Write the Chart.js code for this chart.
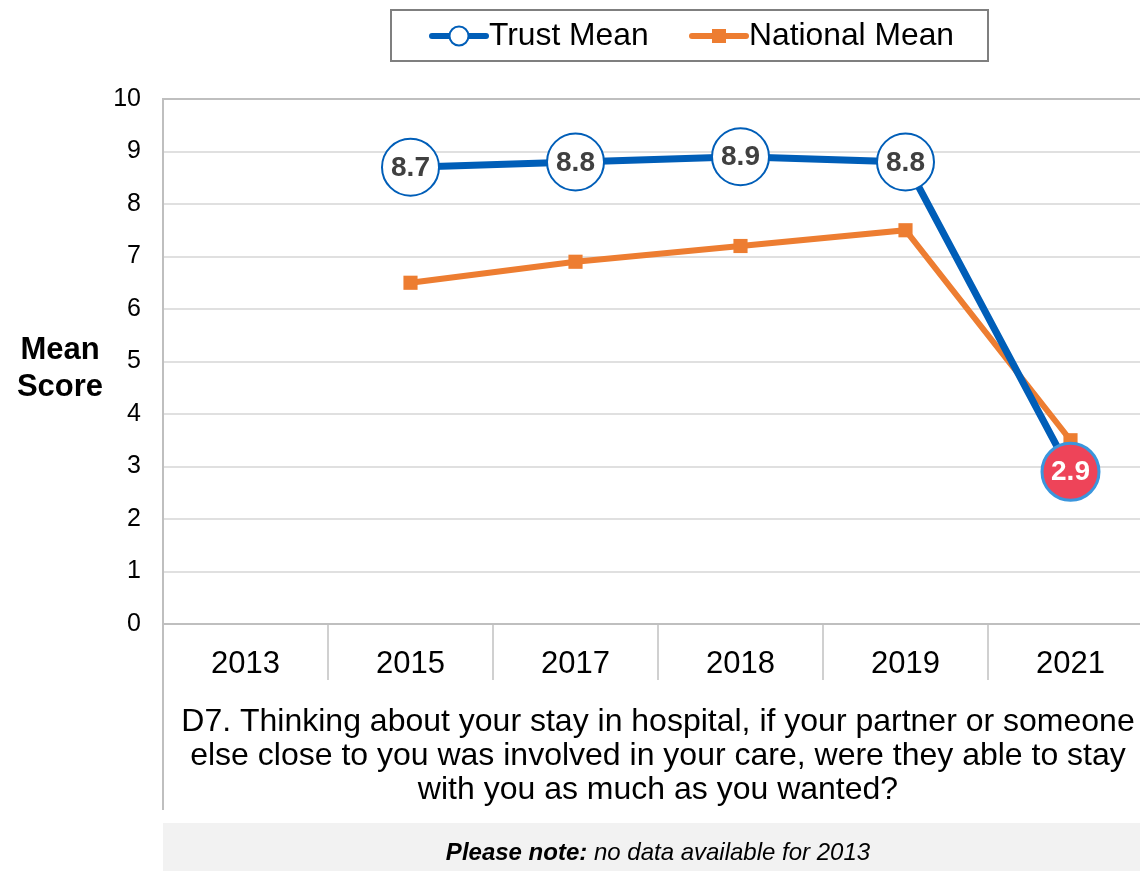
<!DOCTYPE html>
<html>
<head>
<meta charset="utf-8">
<script src="https://cdn.jsdelivr.net/npm/chart.js@4.4.1/dist/chart.umd.min.js"></script>
<style>
  html, body { margin: 0; padding: 0; overflow: hidden; background: #fff; width: 1140px; height: 871px; }
  #wrap { position: absolute; left: 0; top: 0; width: 1155px; height: 871px; }
</style>
</head>
<body>
<div id="wrap"><canvas id="c" width="1155" height="871"></canvas></div>
<script>
const years = ['2013', '2015', '2017', '2018', '2019', '2021'];
const trustMean = [null, 8.7, 8.8, 8.9, 8.8, 2.9];
const nationalMean = [null, 6.5, 6.9, 7.2, 7.5, 3.5];
const yTicks = [0, 1, 2, 3, 4, 5, 6, 7, 8, 9, 10];
const seriesNames = ['Trust Mean', 'National Mean'];
const yTitle = ['Mean', 'Score'];
const xTitle = [
  'D7. Thinking about your stay in hospital, if your partner or someone',
  'else close to you was involved in your care, were they able to stay',
  'with you as much as you wanted?'
];
const noteBold = 'Please note:';
const noteText = ' no data available for 2013';

const FONT = '"Liberation Sans", Arial, sans-serif';
const BLUE = '#005EB8';
const ORANGE = '#ED7D31';

const lastIdx = trustMean.length - 1;

const extras = {
  id: 'extras',
  beforeDraw(chart) {
    const ctx = chart.ctx;
    const a = chart.chartArea;
    ctx.save();
    ctx.fillStyle = '#F2F2F2';
    ctx.fillRect(a.left, 823, chart.width - a.left, 871 - 823);
    ctx.restore();
  },
  afterDraw(chart) {
    const ctx = chart.ctx;
    const a = chart.chartArea;
    ctx.save();
    // extended left axis line
    ctx.strokeStyle = '#BFBFBF';
    ctx.lineWidth = 2;
    ctx.beginPath();
    ctx.moveTo(a.left, a.bottom);
    ctx.lineTo(a.left, 810);
    ctx.stroke();

    // y axis title
    ctx.fillStyle = '#000';
    ctx.font = 'bold 31px ' + FONT;
    ctx.textAlign = 'center';
    ctx.textBaseline = 'middle';
    const cy = (a.top + a.bottom) / 2 + 7;
    ctx.fillText(yTitle[0], 60, cy - 18);
    ctx.fillText(yTitle[1], 60, cy + 19);

    // note text
    ctx.font = 'bold italic 24px ' + FONT;
    const w1 = ctx.measureText(noteBold).width;
    ctx.font = 'italic 24px ' + FONT;
    const w2 = ctx.measureText(noteText).width;
    const cx = (a.left + a.right) / 2;
    const x0 = cx - (w1 + w2) / 2;
    ctx.textAlign = 'left';
    ctx.fillStyle = '#000';
    ctx.font = 'bold italic 24px ' + FONT;
    ctx.fillText(noteBold, x0, 853);
    ctx.font = 'italic 24px ' + FONT;
    ctx.fillText(noteText, x0 + w1, 853);

    // legend
    ctx.strokeStyle = '#7F7F7F';
    ctx.lineWidth = 2;
    ctx.strokeRect(391, 10, 597, 51);
    const ly = 36;
    ctx.lineCap = 'round';
    ctx.strokeStyle = BLUE;
    ctx.lineWidth = 6;
    ctx.beginPath(); ctx.moveTo(432, ly); ctx.lineTo(486, ly); ctx.stroke();
    ctx.fillStyle = '#fff';
    ctx.lineWidth = 2;
    ctx.beginPath(); ctx.arc(459, ly, 9.5, 0, Math.PI * 2); ctx.fill(); ctx.stroke();
    ctx.strokeStyle = ORANGE;
    ctx.lineWidth = 6;
    ctx.beginPath(); ctx.moveTo(692, ly); ctx.lineTo(746, ly); ctx.stroke();
    ctx.fillStyle = ORANGE;
    ctx.fillRect(712, ly - 7, 14, 14);
    ctx.fillStyle = '#000';
    ctx.font = '31.8px ' + FONT;
    ctx.textBaseline = 'middle';
    ctx.fillText(seriesNames[0], 489, ly);
    ctx.fillText(seriesNames[1], 749, ly);

    // point labels for trust mean
    const meta = chart.getDatasetMeta(0);
    ctx.textAlign = 'center';
    ctx.textBaseline = 'middle';
    ctx.font = 'bold 28px ' + FONT;
    meta.data.forEach((pt, i) => {
      const v = trustMean[i];
      if (v === null || v === undefined) return;
      ctx.fillStyle = i === lastIdx ? '#FFFFFF' : '#404040';
      ctx.fillText(v.toFixed(1), pt.x, pt.y + 1);
    });
    ctx.restore();
  }
};

new Chart(document.getElementById('c'), {
  type: 'line',
  data: {
    labels: years,
    datasets: [
      {
        label: seriesNames[0],
        data: trustMean,
        borderColor: BLUE,
        borderWidth: 7,
        backgroundColor: BLUE,
        pointRadius: 28.5,
        pointHoverRadius: 28.5,
        pointBackgroundColor: trustMean.map((v, i) => i === lastIdx ? '#EE4459' : '#FFFFFF'),
        pointBorderColor: trustMean.map((v, i) => i === lastIdx ? '#3A96DD' : BLUE),
        pointBorderWidth: trustMean.map((v, i) => i === lastIdx ? 3 : 2),
        tension: 0,
        clip: false
      },
      {
        label: seriesNames[1],
        data: nationalMean,
        borderColor: ORANGE,
        borderWidth: 6,
        backgroundColor: ORANGE,
        pointStyle: 'rect',
        pointRadius: 10,
        pointHoverRadius: 10,
        pointBackgroundColor: ORANGE,
        pointBorderColor: ORANGE,
        pointBorderWidth: 0,
        tension: 0,
        clip: false
      }
    ]
  },
  options: {
    responsive: false,
    animation: false,
    devicePixelRatio: 1,
    events: [],
    layout: { autoPadding: false, padding: { top: 99, left: 0, right: 2, bottom: 59 } },
    plugins: {
      legend: { display: false },
      tooltip: { enabled: false }
    },
    scales: {
      x: {
        type: 'category',
        offset: true,
        grid: {
          offset: true,
          drawOnChartArea: false,
          drawTicks: true,
          tickLength: 56,
          color: '#D0D0D0',
          lineWidth: 2
        },
        border: { display: true, color: '#BFBFBF', width: 2 },
        ticks: {
          color: '#000',
          font: { family: FONT, size: 31 },
          padding: -34.5,
          maxRotation: 0,
          autoSkip: false
        },
        title: {
          display: true,
          text: xTitle,
          color: '#000',
          font: { family: FONT, size: 32, lineHeight: 1.06 },
          padding: { top: 0, bottom: 5 }
        },
        afterFit(scale) {
          scale.height = 188;
          scale.paddingLeft = 0;
          scale.paddingRight = 0;
        }
      },
      y: {
        min: 0,
        max: 10,
        afterBuildTicks(scale) { scale.ticks = yTicks.map(v => ({ value: v })); },
        grid: {
          drawTicks: false,
          color: (c) => c.tick && c.tick.value === 10 ? '#BFBFBF' : '#E0E0E0',
          lineWidth: 2
        },
        border: { display: true, color: '#BFBFBF', width: 2 },
        ticks: {
          color: '#000',
          font: { family: FONT, size: 25 },
          padding: 22
        },
        afterFit(scale) { scale.width = 163; }
      }
    }
  },
  plugins: [extras]
});
</script>
</body>
</html>
